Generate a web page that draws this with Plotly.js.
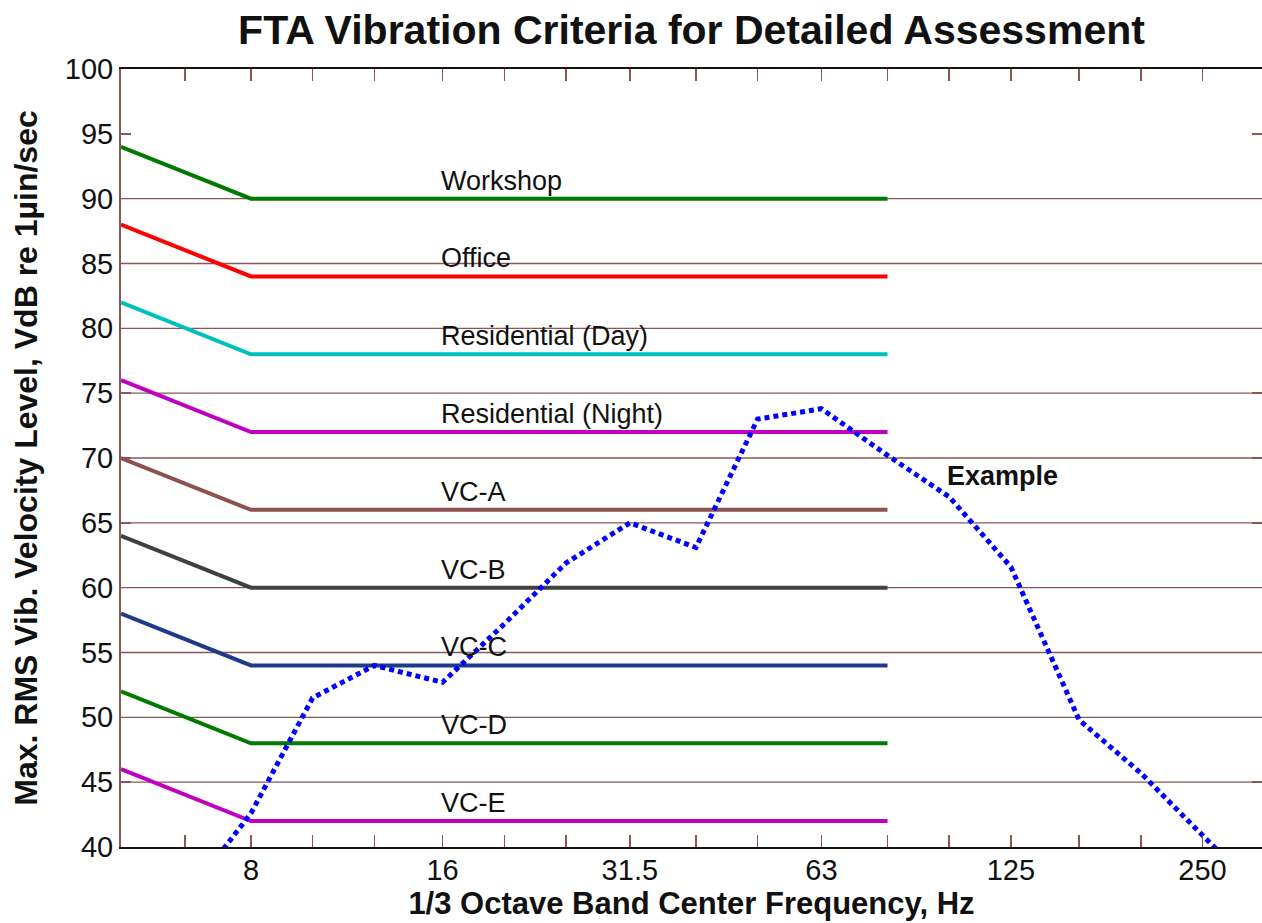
<!DOCTYPE html>
<html>
<head>
<meta charset="utf-8">
<script src="https://cdn.plot.ly/plotly-3.0.1.min.js"></script>
<style>html,body{margin:0;padding:0;background:#fff;}#chart{width:1262px;height:923px;}</style>
</head>
<body>
<div id="chart"></div>
<script>
// ---- Data ----
const critNames = ['Workshop','Office','Residential (Day)','Residential (Night)','VC-A','VC-B','VC-C','VC-D','VC-E'];
const critLow   = [94, 88, 82, 76, 70, 64, 58, 52, 46];   // value at 5 Hz
const critFlat  = [90, 84, 78, 72, 66, 60, 54, 48, 42];   // value from 8 Hz to 80 Hz
const critFreq  = [5, 8, 80];
const critColors = ['#007a00','#ff0000','#00bfbf','#bf00bf','#8c5252','#404040','#1f3a8a','#007a00','#bf00bf'];

const exFreq  = [6.3, 8, 10, 12.5, 16, 20, 25, 31.5, 40, 50, 63, 80, 100, 125, 160, 200, 250, 315];
const exLevel = [36, 42.6, 51.5, 54.0, 52.7, 57.2, 61.9, 65.0, 63.1, 73.0, 73.8, 70.2, 67.0, 61.6, 49.8, 45.7, 40.9, 36];

const bandTicks = [6.3, 8, 10, 12.5, 16, 20, 25, 31.5, 40, 50, 63, 80, 100, 125, 160, 200, 250];
const bandLabels = ['', '8', '', '', '16', '', '', '31.5', '', '', '63', '', '', '125', '', '', '250'];
const yTicks = [40, 45, 50, 55, 60, 65, 70, 75, 80, 85, 90, 95, 100];
const gridVals = [45, 50, 55, 60, 65, 70, 75, 80, 85, 90];

// ---- Traces ----
const brown = '#8a5656';
const traces = [];
critNames.forEach((n, i) => {
  traces.push({
    x: critFreq, y: [critLow[i], critFlat[i], critFlat[i]],
    mode: 'lines', type: 'scatter', name: n, showlegend: false,
    line: {color: critColors[i], width: 4}, hoverinfo: 'skip'
  });
});
traces.push({
  x: exFreq, y: exLevel, mode: 'lines', type: 'scatter', name: 'Example', showlegend: false,
  line: {color: '#0000ff', width: 5, dash: '5px,4px'}
});

const annotations = critNames.map((n, i) => ({
  x: Math.log10(16), y: critFlat[i], xref: 'x', yref: 'y', text: n, showarrow: false,
  xanchor: 'left', yanchor: 'bottom', yshift: 1, xshift: -4,
  font: {family: 'Liberation Sans, Arial, sans-serif', size: 27, color: '#111'}
}));
annotations.push({
  x: Math.log10(100), y: 68.6, xref: 'x', yref: 'y', text: '<b>Example</b>', showarrow: false,
  xanchor: 'left', yanchor: 'middle', xshift: -4,
  font: {family: 'Liberation Sans, Arial, sans-serif', size: 27, color: '#111'}
});

const shapes = gridVals.map(v => ({
  type: 'line', xref: 'paper', yref: 'y', x0: 0, x1: 1, y0: v, y1: v,
  line: {color: brown, width: 1.3}, layer: 'below'
}));

const font = {family: 'Liberation Sans, Arial, sans-serif', color: '#111'};

const layout = {
  width: 1262, height: 923,
  margin: {l: 121, r: 0, t: 69, b: 76},
  paper_bgcolor: '#fff', plot_bgcolor: '#fff',
  font: font,
  title: {
    text: '<b>FTA Vibration Criteria for Detailed Assessment</b>',
    font: {family: 'Liberation Sans, Arial, sans-serif', size: 41, color: '#111'},
    x: 0.5, xref: 'paper', xanchor: 'center',
    y: 1 - 30/923, yref: 'container', yanchor: 'middle'
  },
  xaxis: {
    type: 'log', range: [Math.log10(5), Math.log10(310)],
    tickvals: bandTicks, ticktext: bandLabels,
    ticks: 'inside', ticklen: 12, tickwidth: 1.5, tickcolor: brown,
    showline: true, linecolor: '#1a1010', linewidth: 2, mirror: 'ticks',
    showgrid: false, zeroline: false,
    tickfont: {size: 29, color: '#111'},
    ticklabelstandoff: -4,
    title: {text: '<b>1/3 Octave Band Center Frequency, Hz</b>', font: {size: 31, color: '#111'}, standoff: 4}
  },
  yaxis: {
    range: [40, 100],
    tickvals: yTicks,
    ticks: 'inside', ticklen: 10, tickwidth: 1.5, tickcolor: brown,
    showline: true, linecolor: brown, linewidth: 2, mirror: 'ticks',
    showgrid: false, zeroline: false,
    tickfont: {size: 29, color: '#111'},
    ticklabelstandoff: 0,
    title: {text: '<b>Max. RMS Vib. Velocity Level, VdB re 1µin/sec</b>', font: {size: 32, color: '#111'}, standoff: 18}
  },
  annotations: annotations,
  shapes: shapes,
  showlegend: false
};

Plotly.newPlot('chart', traces, layout, {displayModeBar: false, staticPlot: true});
</script>
</body>
</html>
